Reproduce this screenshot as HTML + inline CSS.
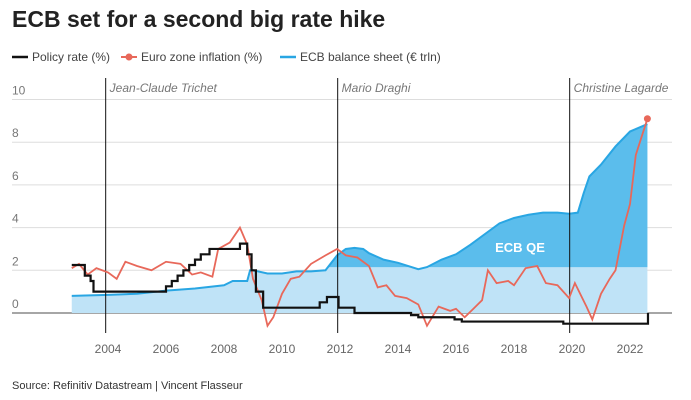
<!DOCTYPE html>
<html><head><meta charset="utf-8"><style>
body{margin:0;background:#fff;font-family:"Liberation Sans",sans-serif;}
#wrap{position:relative;width:691px;height:400px;overflow:hidden}
</style></head><body>
<div id="wrap">
<svg id="chart" width="691" height="400"></svg>
</div>
<script>
const bsDates=[2002.75,2004,2005,2006,2007,2008,2008.3,2008.8,2008.9,2009,2009.5,2010,2010.5,2011,2011.5,2011.9,2012.2,2012.5,2012.8,2013,2013.5,2014,2014.7,2015,2015.5,2016,2016.5,2017,2017.5,2018,2018.5,2019,2019.5,2019.9,2020.2,2020.4,2020.6,2021,2021.5,2022,2022.6];
const bsValues=[0.8,0.85,0.9,1.05,1.15,1.3,1.5,1.5,2.0,2.0,1.85,1.85,1.95,1.95,2.0,2.7,3.0,3.05,3.0,2.8,2.5,2.35,2.05,2.15,2.5,2.75,3.2,3.7,4.2,4.45,4.6,4.7,4.7,4.65,4.7,5.6,6.4,6.95,7.8,8.5,8.85];
const infDates=[2002.75,2003,2003.3,2003.6,2004,2004.3,2004.6,2005,2005.5,2006,2006.5,2006.9,2007.2,2007.6,2007.8,2008.2,2008.55,2008.8,2009,2009.3,2009.5,2009.7,2010,2010.3,2010.6,2011,2011.5,2011.9,2012.2,2012.6,2013,2013.3,2013.6,2013.9,2014.3,2014.7,2015,2015.4,2015.8,2016,2016.3,2016.6,2016.9,2017.1,2017.4,2017.8,2018,2018.4,2018.8,2019.1,2019.5,2019.9,2020.1,2020.5,2020.7,2021,2021.3,2021.5,2021.8,2022,2022.2,2022.6];
const infValues=[2.1,2.3,1.8,2.1,1.9,1.6,2.4,2.2,2.0,2.4,2.3,1.8,1.9,1.7,3.0,3.3,4.0,3.2,1.6,0.6,-0.6,-0.2,0.9,1.6,1.7,2.3,2.7,3.0,2.7,2.6,2.2,1.2,1.3,0.8,0.7,0.4,-0.6,0.3,0.1,0.2,-0.2,0.2,0.6,2.0,1.4,1.5,1.3,2.1,2.2,1.4,1.3,0.7,1.4,0.3,-0.3,0.9,1.6,2.0,4.1,5.1,7.4,9.1];
const rateDates=[2002.75,2003.2,2003.4,2003.5,2006.0,2006.2,2006.4,2006.6,2006.8,2007.0,2007.2,2007.5,2008.55,2008.8,2008.95,2009.1,2009.35,2011.3,2011.55,2011.95,2012.5,2014.45,2014.7,2015.95,2016.2,2019.7,2022.55,2022.62];
const rateValues=[2.25,1.75,1.5,1.0,1.25,1.5,1.75,2.0,2.25,2.5,2.75,3.0,3.25,2.75,2.0,1.0,0.25,0.5,0.75,0.25,0.0,-0.1,-0.2,-0.3,-0.4,-0.5,-0.5,0.0];
const yTicks=[0,2,4,6,8,10];
const xTicks=[2004,2006,2008,2010,2012,2014,2016,2018,2020,2022];
const presDates=[2003.92,2011.92,2019.92];
const presNames=["Jean-Claude Trichet","Mario Draghi","Christine Lagarde"];
const qeThreshold=2.15;

const X=d=>108+(d-2004)*29.0;
const Y=v=>313-v*21.35;
const svg=document.getElementById('chart');
const NS='http://www.w3.org/2000/svg';
function mk(tag,attrs,parent){const e=document.createElementNS(NS,tag);for(const k in attrs)e.setAttribute(k,attrs[k]);(parent||svg).appendChild(e);return e;}

let t=mk('text',{x:12,y:27,'font-size':23,'font-weight':'bold',fill:'#222'});t.textContent='ECB set for a second big rate hike';


// legend
let lg=mk('g',{});


mk('line',{x1:12,x2:28,y1:57,y2:57,stroke:'#111','stroke-width':2.5},lg);
let l1=mk('text',{x:32,y:61,'font-size':12,fill:'#444'},lg);l1.textContent='Policy rate (%)';


mk('line',{x1:121,x2:137,y1:57,y2:57,stroke:'#e8685a','stroke-width':2},lg);
mk('circle',{cx:129,cy:57,r:3.5,fill:'#e8685a'},lg);
let l2=mk('text',{x:141,y:61,'font-size':12,fill:'#444'},lg);l2.textContent='Euro zone inflation (%)';


mk('line',{x1:280,x2:296,y1:57,y2:57,stroke:'#29a6e3','stroke-width':2.5},lg);
let l3=mk('text',{x:300,y:61,'font-size':12,fill:'#444'},lg);l3.textContent='ECB balance sheet (€ trln)';



// grid
yTicks.forEach(v=>{
  const g=mk('line',{x1:12,x2:672,y1:Y(v),y2:Y(v),stroke:v===0?'#888':'#ddd','stroke-width':v===0?1.5:1});
  
  
  const tt=mk('text',{x:12,y:Y(v)-5,'font-size':12,fill:'#777'});tt.textContent=v;
  
  
});
xTicks.forEach(d=>{
  const tt=mk('text',{x:X(d),y:353,'font-size':12,fill:'#666','text-anchor':'middle'});tt.textContent=d;
  
  
});
// balance sheet area
const pts=bsDates.map((d,i)=>X(d)+','+Y(bsValues[i])).join(' L');
const areaD='M'+X(bsDates[0])+','+Y(0)+' L'+pts+' L'+X(bsDates[bsDates.length-1])+','+Y(0)+'Z';
let a1=mk('path',{d:areaD,fill:'#bfe3f7'});


const defs=mk('defs',{});
const cp=mk('clipPath',{id:'qe'},defs);
mk('rect',{x:0,y:0,width:691,height:Y(qeThreshold)},cp);
let a2=mk('path',{d:areaD,fill:'#5bbdec','clip-path':'url(#qe)'});


let bl=mk('path',{d:'M'+pts,fill:'none',stroke:'#29a6e3','stroke-width':2});


let qt=mk('text',{x:520,y:252,'font-size':13,'font-weight':'bold',fill:'#fff','text-anchor':'middle'});qt.textContent='ECB QE';



// president lines
presDates.forEach((d,i)=>{
  const l=mk('line',{x1:X(d),x2:X(d),y1:78,y2:333,stroke:'#111','stroke-width':1});
  
  
  const tt=mk('text',{x:X(d)+4,y:92,'font-size':12,'font-style':'italic',fill:'#777'});tt.textContent=presNames[i];
  
  
});

// inflation
let ip=mk('path',{d:'M'+infDates.map((d,i)=>X(d)+','+Y(infValues[i])).join(' L'),fill:'none',stroke:'#e8685a','stroke-width':1.8});


let ic=mk('circle',{cx:X(infDates[infDates.length-1]),cy:Y(infValues[infValues.length-1]),r:3.5,fill:'#e8685a'});



// policy rate step
let rd='M'+X(rateDates[0])+','+Y(rateValues[0]);
for(let i=1;i<rateDates.length;i++){rd+=' L'+X(rateDates[i])+','+Y(rateValues[i-1])+' L'+X(rateDates[i])+','+Y(rateValues[i]);}
let rp=mk('path',{d:rd,fill:'none',stroke:'#111','stroke-width':2.2});



let src=mk('text',{x:12,y:389,'font-size':11,fill:'#333'});src.textContent='Source: Refinitiv Datastream | Vincent Flasseur';


</script>
</body></html>
